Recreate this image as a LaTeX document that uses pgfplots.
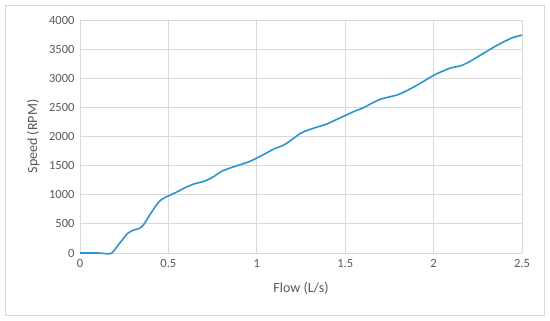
\documentclass[border=0pt]{standalone}
\usepackage{pgfplots}
\pgfplotsset{compat=1.18}
\usepackage{fontspec}
\setmainfont{Carlito}
\definecolor{txt}{HTML}{595959}
\definecolor{gridc}{HTML}{D9D9D9}
\definecolor{linec}{HTML}{2A93D0}
\begin{document}
\begin{tikzpicture}
\begin{axis}[name=ax,
  scale only axis, width=442bp, height=233bp,
  xmin=0, xmax=2.5, ymin=0, ymax=4000,
  xtick={0,0.5,1,1.5,2,2.5}, ytick={0,500,...,4000},
  xticklabels={0,0.5,1,1.5,2,2.5},
  yticklabels={0,500,1000,1500,2000,2500,3000,3500,4000},
  grid=major, major grid style={gridc, line width=0.8bp},
  axis line style={draw=none}, tick style={draw=none},
  ticklabel style={font=\fontsize{12.5bp}{14bp}\selectfont, text=txt},
  xticklabel style={yshift=-3bp},
  yticklabel style={xshift=-2bp},
  xlabel={Flow (L/s)}, ylabel={Speed (RPM)},
  label style={font=\fontsize{14bp}{16bp}\selectfont, text=txt},
  xlabel style={yshift=-8bp},
  ylabel style={yshift=3bp},
  clip=false,
]
\addplot[linec, line width=1.6bp, smooth, tension=0.5] coordinates {
(0,0) (0.1,0) (0.15,-12) (0.18,0) (0.22,150) (0.27,340) (0.3,390) (0.35,450)
(0.4,680) (0.45,890) (0.5,980) (0.55,1050) (0.6,1130) (0.65,1190) (0.7,1230)
(0.75,1300) (0.8,1400) (0.85,1460) (0.9,1510) (0.95,1560) (1.0,1630)
(1.05,1710) (1.1,1790) (1.15,1850) (1.2,1950) (1.25,2060) (1.3,2120)
(1.35,2170) (1.4,2220) (1.45,2290) (1.5,2360) (1.55,2430) (1.6,2490)
(1.65,2570) (1.7,2640) (1.75,2680) (1.8,2720) (1.85,2790) (1.9,2870)
(1.95,2960) (2.0,3050) (2.05,3120) (2.1,3180) (2.15,3210) (2.2,3280)
(2.25,3370) (2.3,3460) (2.35,3550) (2.4,3630) (2.45,3700) (2.5,3740)
};
\end{axis}
\draw[gridc, line width=0.8bp] ([shift={(-75bp,-62bp)}]ax.south west) rectangle ([shift={(464bp,248bp)}]ax.south west);
\path[use as bounding box] ([shift={(-80bp,-68bp)}]ax.south west) rectangle ([shift={(470bp,253bp)}]ax.south west);
\end{tikzpicture}
\end{document}
